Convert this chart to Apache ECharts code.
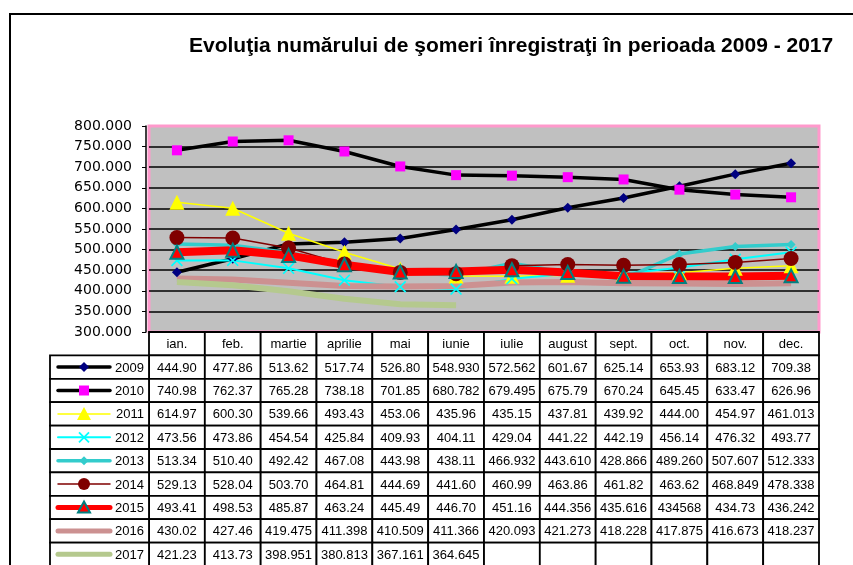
<!DOCTYPE html>
<html>
<head>
<meta charset="utf-8">
<script src="https://cdn.jsdelivr.net/npm/echarts@6/dist/echarts.min.js"></script>
<style>
html,body{margin:0;padding:0;background:#fff;}
#chart{width:853px;height:565px;}
</style>
</head>
<body>
<div id="chart"></div>
<script>
// date (mii de persoane), asa cum apar in tabel
var months = ['ian.','feb.','martie','aprilie','mai','iunie','iulie','august','sept.','oct.','nov.','dec.'];
var years = ['2009','2010','2011','2012','2013','2014','2015','2016','2017'];
var yTicks = [300,350,400,450,500,550,600,650,700,750,800];

var v2009 = ['444.90','477.86','513.62','517.74','526.80','548.930','572.562','601.67','625.14','653.93','683.12','709.38'];
var v2010 = ['740.98','762.37','765.28','738.18','701.85','680.782','679.495','675.79','670.24','645.45','633.47','626.96'];
var v2011 = ['614.97','600.30','539.66','493.43','453.06','435.96','435.15','437.81','439.92','444.00','454.97','461.013'];
var v2012 = ['473.56','473.86','454.54','425.84','409.93','404.11','429.04','441.22','442.19','456.14','476.32','493.77'];
var v2013 = ['513.34','510.40','492.42','467.08','443.98','438.11','466.932','443.610','428.866','489.260','507.607','512.333'];
var v2014 = ['529.13','528.04','503.70','464.81','444.69','441.60','460.99','463.86','461.82','463.62','468.849','478.338'];
var v2015 = ['493.41','498.53','485.87','463.24','445.49','446.70','451.16','444.356','435.616','434568','434.73','436.242'];
var v2016 = ['430.02','427.46','419.475','411.398','410.509','411.366','420.093','421.273','418.228','417.875','416.673','418.237'];
var v2017 = ['421.23','413.73','398.951','380.813','367.161','364.645','','','','','',''];

var rows = [v2009, v2010, v2011, v2012, v2013, v2014, v2015, v2016, v2017];

// stiluri serii
var X_PATH = 'path://M0,1L1,0L5,4L9,0L10,1L6,5L10,9L9,10L5,6L1,10L0,9L4,5Z';
var looks = [
    {line:'#000000', lw:3.5, sym:'diamond', symColor:'#000080', size:10},
    {line:'#000000', lw:3.5, sym:'rect', symColor:'#FF00FF', size:10},
    {line:'#FFFF00', lw:1.5, sym:'triangle', symColor:'#FFFF00', size:15},
    {line:'#00FFFF', lw:2, sym:X_PATH, symColor:'#00FFFF', size:12},
    {line:'#33CCCC', lw:3.5, sym:'diamond', symColor:'#33CCCC', size:9},
    {line:'#800000', lw:1.5, sym:'circle', symColor:'#800000', size:15},
    {line:'#FF0000', lw:8, sym:'triangle', symColor:'#FF0000', size:13, border:'#008080'},
    {line:'#CC9191', lw:6, sym:'none'},
    {line:'#B5C98E', lw:6, sym:'none'}
];

// "434568" din tabel si-a pierdut punctul
function num(s){
    if(s===''){ return null; }
    var n = parseFloat(s);
    return n > 1000 ? n/1000 : n;
}

var series = [];
rows.forEach(function(r, i){
    var lk = looks[i];
    series.push({
        name: years[i],
        type: 'line',
        xAxisIndex: 0, yAxisIndex: 0,
        data: r.map(num),
        symbol: lk.sym,
        symbolSize: lk.size || 0,
        showSymbol: lk.sym !== 'none',
        lineStyle: {color: lk.line, width: lk.lw},
        itemStyle: {color: lk.symColor || lk.line, borderColor: lk.border || lk.symColor || lk.line, borderWidth: lk.border ? 2 : 0, opacity: 1},
        emphasis: {disabled: true},
        animation: false
    });
});

var TXT = '13px "Liberation Sans", Arial, sans-serif';

// celulele tabelului (rand 0 = luni)
var cells = [];
for(var r=0; r<=years.length; r++){
    for(var c=0; c<months.length; c++){
        cells.push([c, r]);
    }
}
series.push({
    type: 'custom',
    xAxisIndex: 1, yAxisIndex: 1,
    data: cells,
    silent: true,
    animation: false,
    renderItem: function(params, api){
        var c = api.value(0), r = api.value(1);
        var p = api.coord([c, r]);
        var s = api.size([1, 1]);
        var txt = r === 0 ? months[c] : rows[r-1][c];
        return {type:'group', children:[
            {type:'rect', shape:{x:p[0]-s[0]/2, y:p[1]-s[1]/2, width:s[0], height:s[1]},
                style:{fill:'#fff', stroke:'#000', lineWidth:1.8}},
            {type:'text', style:{text:txt, x:p[0], y:p[1]+1, align:'center', verticalAlign:'middle', font:TXT, fill:'#000'}}
        ]};
    }
});

function marker(lk, x, y){
    var col = lk.symColor;
    if(lk.sym === 'diamond'){
        var d = lk.size/2;
        return {type:'polygon', shape:{points:[[x,y-d],[x+d,y],[x,y+d],[x-d,y]]}, style:{fill:col}};
    }
    if(lk.sym === 'rect'){
        return {type:'rect', shape:{x:x-5, y:y-5, width:10, height:10}, style:{fill:col}};
    }
    if(lk.sym === 'triangle'){
        var h = lk.border ? 6 : 7;
        return {type:'polygon', shape:{points:[[x,y-h],[x+h,y+h-1],[x-h,y+h-1]]},
            style:{fill:col, stroke:lk.border || col, lineWidth:lk.border ? 2 : 0}};
    }
    if(lk.sym === 'circle'){
        return {type:'circle', shape:{cx:x, cy:y, r:6}, style:{fill:col}};
    }
    if(lk.sym === X_PATH){
        return {type:'group', children:[
            {type:'line', shape:{x1:x-5, y1:y-5, x2:x+5, y2:y+5}, style:{stroke:col, lineWidth:1.8}},
            {type:'line', shape:{x1:x+5, y1:y-5, x2:x-5, y2:y+5}, style:{stroke:col, lineWidth:1.8}}
        ]};
    }
    return null;
}

// coloana cu legenda din tabel
var keyRows = years.map(function(y, i){ return [0, i+1]; });
series.push({
    type: 'custom',
    xAxisIndex: 1, yAxisIndex: 1,
    data: keyRows,
    silent: true,
    animation: false,
    renderItem: function(params, api){
        var r = api.value(1);
        var p = api.coord([0, r]);
        var s = api.size([1, 1]);
        var right = params.coordSys.x;
        var left = right - 99;
        var lk = looks[r-1];
        var kids = [
            {type:'rect', shape:{x:left, y:p[1]-s[1]/2, width:right-left, height:s[1]},
                style:{fill:'#fff', stroke:'#000', lineWidth:1.8}},
            {type:'line', shape:{x1:left+8, y1:p[1], x2:left+60, y2:p[1]},
                style:{stroke:lk.line, lineWidth:Math.min(lk.lw, 5), lineCap:'round'}},
            {type:'text', style:{text:years[r-1], x:right-5, y:p[1]+1, align:'right', verticalAlign:'middle', font:TXT, fill:'#000'}}
        ];
        var m = marker(lk, left+34, p[1]);
        if(m){ kids.push(m); }
        return {type:'group', children:kids};
    }
});

var chart = echarts.init(document.getElementById('chart'));
chart.setOption({
    animation: false,
    backgroundColor: '#fff',
    title: {
        text: 'Evoluţia numărului de şomeri înregistraţi în perioada 2009 - 2017',
        left: 184, top: 31,
        textStyle: {fontFamily:'"Liberation Sans", Arial, sans-serif', fontWeight:'bold', fontSize:21, color:'#000'}
    },
    graphic: [{
        type: 'rect', z: 100, silent: true,
        shape: {x:10, y:14, width:900, height:600},
        style: {fill:'none', stroke:'#000', lineWidth:2}
    }],
    grid: [
        {left:149, top:126, width:670, height:206, show:true, backgroundColor:'#C0C0C0', borderColor:'#FF99CC', borderWidth:3, outerBoundsMode:'none'},
        {left:149, top:332, width:670, height:234, outerBoundsMode:'none'}
    ],
    xAxis: [
        {gridIndex:0, type:'category', data:months, boundaryGap:true, axisLine:{show:false}, axisTick:{show:false}, axisLabel:{show:false}},
        {gridIndex:1, type:'category', data:months, show:false}
    ],
    yAxis: [
        {gridIndex:0, type:'value', min:yTicks[0], max:yTicks[yTicks.length-1], interval:50, offset:3,
            axisLine:{show:true, lineStyle:{color:'#000', width:1.5}},
            axisTick:{show:true, length:4, lineStyle:{color:'#000'}},
            axisLabel:{margin:14, color:'#000', fontFamily:'"DejaVu Sans", Verdana, sans-serif', fontSize:14,
                formatter:function(v){ return v + '.000'; }},
            splitLine:{show:true, lineStyle:{width:1.5,
                color:['rgba(0,0,0,0)','#000','#000','#000','#000','#000','#000','#000','#000','#000','rgba(0,0,0,0)']}}
        },
        {gridIndex:1, type:'category', data:[''].concat(years), inverse:true, show:false}
    ],
    series: series
});
</script>
</body>
</html>
